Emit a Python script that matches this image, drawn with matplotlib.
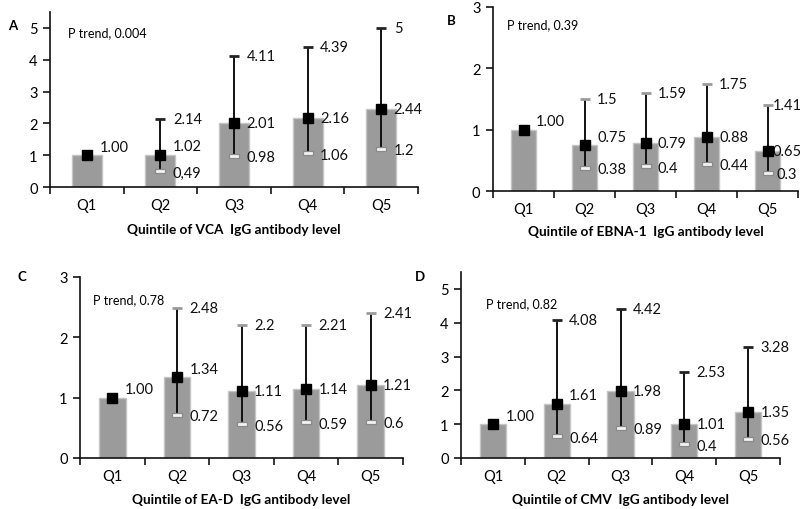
import matplotlib
matplotlib.use('Agg')
import matplotlib.pyplot as plt
from matplotlib.path import Path

plt.rcParams['font.family'] = ['Lato', 'DejaVu Sans']

quintiles = ['Q1', 'Q2', 'Q3', 'Q4', 'Q5']

# Panel A: VCA
vca_or = [1.00, 1.02, 2.01, 2.16, 2.44]
vca_lo = [None, 0.49, 0.98, 1.06, 1.2]
vca_hi = [None, 2.14, 4.11, 4.39, 5.0]
vca_or_lbl = ['1.00', '1.02', '2.01', '2.16', '2.44']
vca_lo_lbl = ['', '0,49', '0.98', '1.06', '1.2']
vca_hi_lbl = ['', '2.14', '4.11', '4.39', '5']

# Panel B: EBNA-1
ebna_or = [1.00, 0.75, 0.79, 0.88, 0.65]
ebna_lo = [None, 0.38, 0.4, 0.44, 0.3]
ebna_hi = [None, 1.5, 1.59, 1.75, 1.41]
ebna_or_lbl = ['1.00', '0.75', '0.79', '0.88', '0.65']
ebna_lo_lbl = ['', '0.38', '0.4', '0.44', '0.3']
ebna_hi_lbl = ['', '1.5', '1.59', '1.75', '1.41']

# Panel C: EA-D
ead_or = [1.00, 1.34, 1.11, 1.14, 1.21]
ead_lo = [None, 0.72, 0.56, 0.59, 0.6]
ead_hi = [None, 2.48, 2.2, 2.21, 2.41]
ead_or_lbl = ['1.00', '1.34', '1.11', '1.14', '1.21']
ead_lo_lbl = ['', '0.72', '0.56', '0.59', '0.6']
ead_hi_lbl = ['', '2.48', '2.2', '2.21', '2.41']

# Panel D: CMV
cmv_or = [1.00, 1.61, 1.98, 1.01, 1.35]
cmv_lo = [None, 0.64, 0.89, 0.4, 0.56]
cmv_hi = [None, 4.08, 4.42, 2.53, 3.28]
cmv_or_lbl = ['1.00', '1.61', '1.98', '1.01', '1.35']
cmv_lo_lbl = ['', '0.64', '0.89', '0.4', '0.56']
cmv_hi_lbl = ['', '4.08', '4.42', '2.53', '3.28']

ptrends = ['P trend, 0.004', 'P trend, 0.39', 'P trend, 0.78', 'P trend, 0.82']
xlabels = ['Quintile of VCA  IgG antibody level',
           'Quintile of EBNA-1  IgG antibody level',
           'Quintile of EA-D  IgG antibody level',
           'Quintile of CMV  IgG antibody level']
letters = ['A', 'B', 'C', 'D']

W, H = 800, 510
fig = plt.figure(figsize=(8, 5.1), dpi=100)

def rect(l, r, b, t):
    return [l / W, 1 - b / H, (r - l) / W, (b - t) / H]

panels = [
    dict(pos=rect(50, 418, 188, 13), ymax=5.5, yt=range(0, 6),
         data=(vca_or, vca_lo, vca_hi, vca_or_lbl, vca_lo_lbl, vca_hi_lbl),
         capc='#222222', letter_xy=(8, 26), pt_xy=(68, 33), xl_y=230,
         last_dx=9),
    dict(pos=rect(493, 798, 192, 8), ymax=3, yt=range(0, 4),
         data=(ebna_or, ebna_lo, ebna_hi, ebna_or_lbl, ebna_lo_lbl, ebna_hi_lbl),
         capc='#9a9a9a', letter_xy=(447, 21), pt_xy=(507, 25), xl_y=232,
         last_dx=3.5),
    dict(pos=rect(80, 403, 459, 278), ymax=3, yt=range(0, 4),
         data=(ead_or, ead_lo, ead_hi, ead_or_lbl, ead_lo_lbl, ead_hi_lbl),
         capc='#9a9a9a', letter_xy=(18, 277), pt_xy=(93, 300), xl_y=500,
         last_dx=9),
    dict(pos=rect(461, 780, 459, 273), ymax=5.5, yt=range(0, 6),
         data=(cmv_or, cmv_lo, cmv_hi, cmv_or_lbl, cmv_lo_lbl, cmv_hi_lbl),
         capc='#222222', letter_xy=(415, 277), pt_xy=(486, 304), xl_y=500,
         last_dx=9),
]

lowcap = Path([(-1, -0.3), (1, -0.3), (1, 0.3), (-1, 0.3), (-1, -0.3)],
              [Path.MOVETO, Path.LINETO, Path.LINETO, Path.LINETO, Path.CLOSEPOLY])

xs = list(range(len(quintiles)))

for i, p in enumerate(panels):
    ax = fig.add_axes(p['pos'])
    orv, lo, hi, orl, lol, hil = p['data']
    ax.bar(xs, orv, width=0.41, color='#9b9b9b', edgecolor='#c4c4c4',
           linewidth=1.0, zorder=1)
    for j in xs:
        dx = p['last_dx'] if j == xs[-1] else 9
        if lo[j] is not None:
            ax.vlines(j, lo[j], hi[j], color='#111111', lw=1.4, zorder=2)
            ax.plot([j], [hi[j]], marker='_', ms=7.5, mew=2.0,
                    color=p['capc'], zorder=3)
            ax.plot([j], [lo[j]], marker=lowcap, ms=7.5, mew=0.9,
                    mfc='#f4f4f4', mec='#8a8a8a', zorder=3)
            ax.annotate(hil[j], (j, hi[j]), xytext=(dx, 0),
                        textcoords='offset points', va='center', ha='left',
                        fontsize=10.5, color='#111111')
            ax.annotate(lol[j], (j, lo[j]), xytext=(dx + (3 if dx < 9 else 0), -1),
                        textcoords='offset points', va='center', ha='left',
                        fontsize=10.5, color='#111111')
        dy = 6 if j < 2 else 0
        ax.annotate(orl[j], (j, orv[j]), xytext=(dx, dy),
                    textcoords='offset points', va='center', ha='left',
                    fontsize=10.5, color='#111111')
        ax.plot([j], [orv[j]], marker='s', ms=7.5, color='black', zorder=4)

    ax.set_xlim(-0.5, 4.5)
    ax.set_ylim(0, p['ymax'])
    ax.set_yticks(list(p['yt']))
    ax.set_xticks(xs)
    ax.set_xticklabels(quintiles)
    ax.set_xticks([x - 0.5 for x in range(6)], minor=True)
    ax.tick_params(axis='x', which='major', length=0, pad=8, labelsize=10.5)
    ax.tick_params(axis='x', which='minor', length=5, width=1.1, direction='out')
    ax.tick_params(axis='y', length=5, width=1.1, direction='out', pad=4,
                   labelsize=10.5)
    for s in ['top', 'right']:
        ax.spines[s].set_visible(False)
    for s in ['left', 'bottom']:
        ax.spines[s].set_linewidth(1.2)
        ax.spines[s].set_color('#111111')

    fig.text(p['letter_xy'][0] / W, 1 - p['letter_xy'][1] / H, letters[i],
             fontsize=9.5, fontweight='bold', ha='left', va='center')
    fig.text(p['pt_xy'][0] / W, 1 - p['pt_xy'][1] / H, ptrends[i],
             fontsize=9, ha='left', va='center')
    cx = p['pos'][0] + p['pos'][2] / 2
    fig.text(cx, 1 - p['xl_y'] / H, xlabels[i], fontsize=9.8,
             fontweight='bold', ha='center', va='center')

fig.savefig('out.png', dpi=100)
